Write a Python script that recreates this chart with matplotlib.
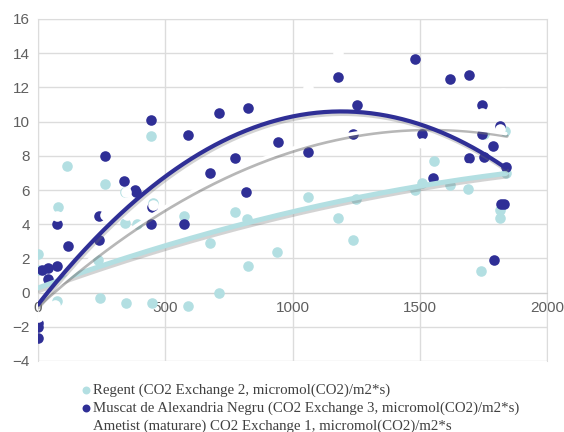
import numpy as np
import matplotlib
matplotlib.use("Agg")
import matplotlib.pyplot as plt
import matplotlib.patheffects as pe

# ---- data ----
regent_x = [0, 0, 77, 75, 237, 243, 346, 342, 388, 453, 446, 590, 575, 115, 263, 444, 342,
            676, 711, 776, 823, 826, 941, 1059, 1180, 1236, 1251, 1555, 1507, 1481, 1618,
            1690, 1753, 1834, 1838, 1815, 1815, 1740]
regent_y = [2.24, 1.3, 5.0, -0.5, 1.9, -0.3, -0.6, 4.05, 4.0, 5.26, -0.6, -0.78, 4.5, 7.4, 6.33,
            9.18, 5.9, 2.88, 0.0, 4.7, 4.29, 1.56, 2.4, 5.57, 4.35, 3.07, 5.47, 7.7, 6.43, 6.0,
            6.3, 6.04, 9.3, 9.45, 6.97, 4.38, 4.83, 1.26]

muscat_x = [0, 0, 0, 15, 40, 75, 40, 75, 117, 238, 241, 444, 575, 446, 381, 263, 339, 385, 444,
            590, 711, 826, 944, 1059, 776, 676, 819, 1180, 1254, 1236, 1483, 1618, 1693, 1743,
            1507, 1817, 1745, 1788, 1753, 1692, 1838, 1553, 1821, 1832, 1792]
muscat_y = [-2.65, -2.0, -1.8, 1.3, 1.45, 1.55, 0.8, 4.0, 2.7, 3.07, 4.5, 4.0, 4.0, 5.0, 6.0, 8.0,
            6.5, 5.9, 10.1, 9.2, 10.5, 10.8, 8.8, 8.2, 7.9, 7.0, 5.9, 12.6, 11.0, 9.25, 13.66,
            12.47, 12.7, 10.97, 9.27, 9.74, 9.3, 8.6, 7.95, 7.9, 7.36, 6.72, 5.16, 5.18, 1.9]

ametist_x = [0, 67, 73, 263, 344, 348, 453, 676, 774, 937, 1062, 1179, 1251, 1507, 1625, 1690,
             1743, 1815, 1828]
ametist_y = [-1.4, -0.7, 4.5, 4.55, 5.9, 4.55, 5.1, 1.42, 2.53, 10.97, 11.95, 14.0, 15.2, 8.73,
             10.87, 7.27, 10.5, 9.55, 11.65]

# polynomial trendline coefficients (c0, c1, c2)
regent_trend = [0.27, 5.43e-3, -9.72e-7]
muscat_trend = [-0.7, 1.894e-2, -7.94e-6]
ametist_trend = [-0.6, 1.337e-2, -4.344e-6]

labels = ["Regent (CO2 Exchange 2, micromol(CO2)/m2*s)",
          "Muscat de Alexandria Negru (CO2 Exchange 3, micromol(CO2)/m2*s)",
          "Ametist (maturare) CO2 Exchange 1, micromol(CO2)/m2*s"]

xticks = [0, 500, 1000, 1500, 2000]
yticks = [-4, -2, 0, 2, 4, 6, 8, 10, 12, 14, 16]

c_regent = "#b3dfe2"
c_muscat = "#2f2f96"
c_ametist = "#ffffff"

fig = plt.figure(figsize=(5.64, 4.32), dpi=100)
ax = fig.add_axes([38/564, 1-361/432, (547-38)/564, (361-19)/432])

ax.set_xlim(0, 2000)
ax.set_ylim(-4, 16)
ax.set_xticks(xticks)
ax.set_yticks(yticks)
ax.grid(True, color="#dcdcdc", linewidth=1.0, zorder=0)
ax.set_axisbelow(True)
for s in ["top", "right", "left"]:
    ax.spines[s].set_color("#dcdcdc")
ax.spines["bottom"].set_position(("data", 0))
ax.spines["bottom"].set_color("#d0d0d0")
ax.tick_params(length=0, labelsize=11, labelcolor="#5f5f5f", pad=6)
for lab in ax.get_xticklabels() + ax.get_yticklabels():
    lab.set_fontfamily("Liberation Sans")

ms = 58
ax.scatter(regent_x, regent_y, s=ms, color=c_regent, zorder=3, linewidths=0, label=labels[0])
ax.scatter(muscat_x, muscat_y, s=ms, color=c_muscat, zorder=3, linewidths=0, label=labels[1])
ax.scatter(ametist_x, ametist_y, s=ms, color=c_ametist, zorder=3, linewidths=0, label=labels[2])

xx = np.linspace(0, 1838, 300)
for coef, col, lw, sh_alpha in [(regent_trend, c_regent, 3.6, 0.3), (ametist_trend, "#ffffff", 2.6, 0.5),
                                (muscat_trend, c_muscat, 3.0, 0.3)]:
    shadow = [pe.SimpleLineShadow(offset=(0.8, -1.8), shadow_color="#707070", alpha=sh_alpha), pe.Normal()]
    yy = np.polynomial.polynomial.polyval(xx, coef)
    ax.plot(xx, yy, color=col, linewidth=lw, zorder=4, solid_capstyle="round", path_effects=shadow)

leg = fig.legend(loc="upper left", bbox_to_anchor=(72/564, 1-376/432), frameon=False,
                 handletextpad=0.0, labelspacing=0.3, borderpad=0, handlelength=0.94,
                 prop={"family": "Liberation Serif", "size": 10.7}, markerscale=0.75)
for t in leg.get_texts():
    t.set_color("#404040")

fig.savefig("out.png", dpi=100)
